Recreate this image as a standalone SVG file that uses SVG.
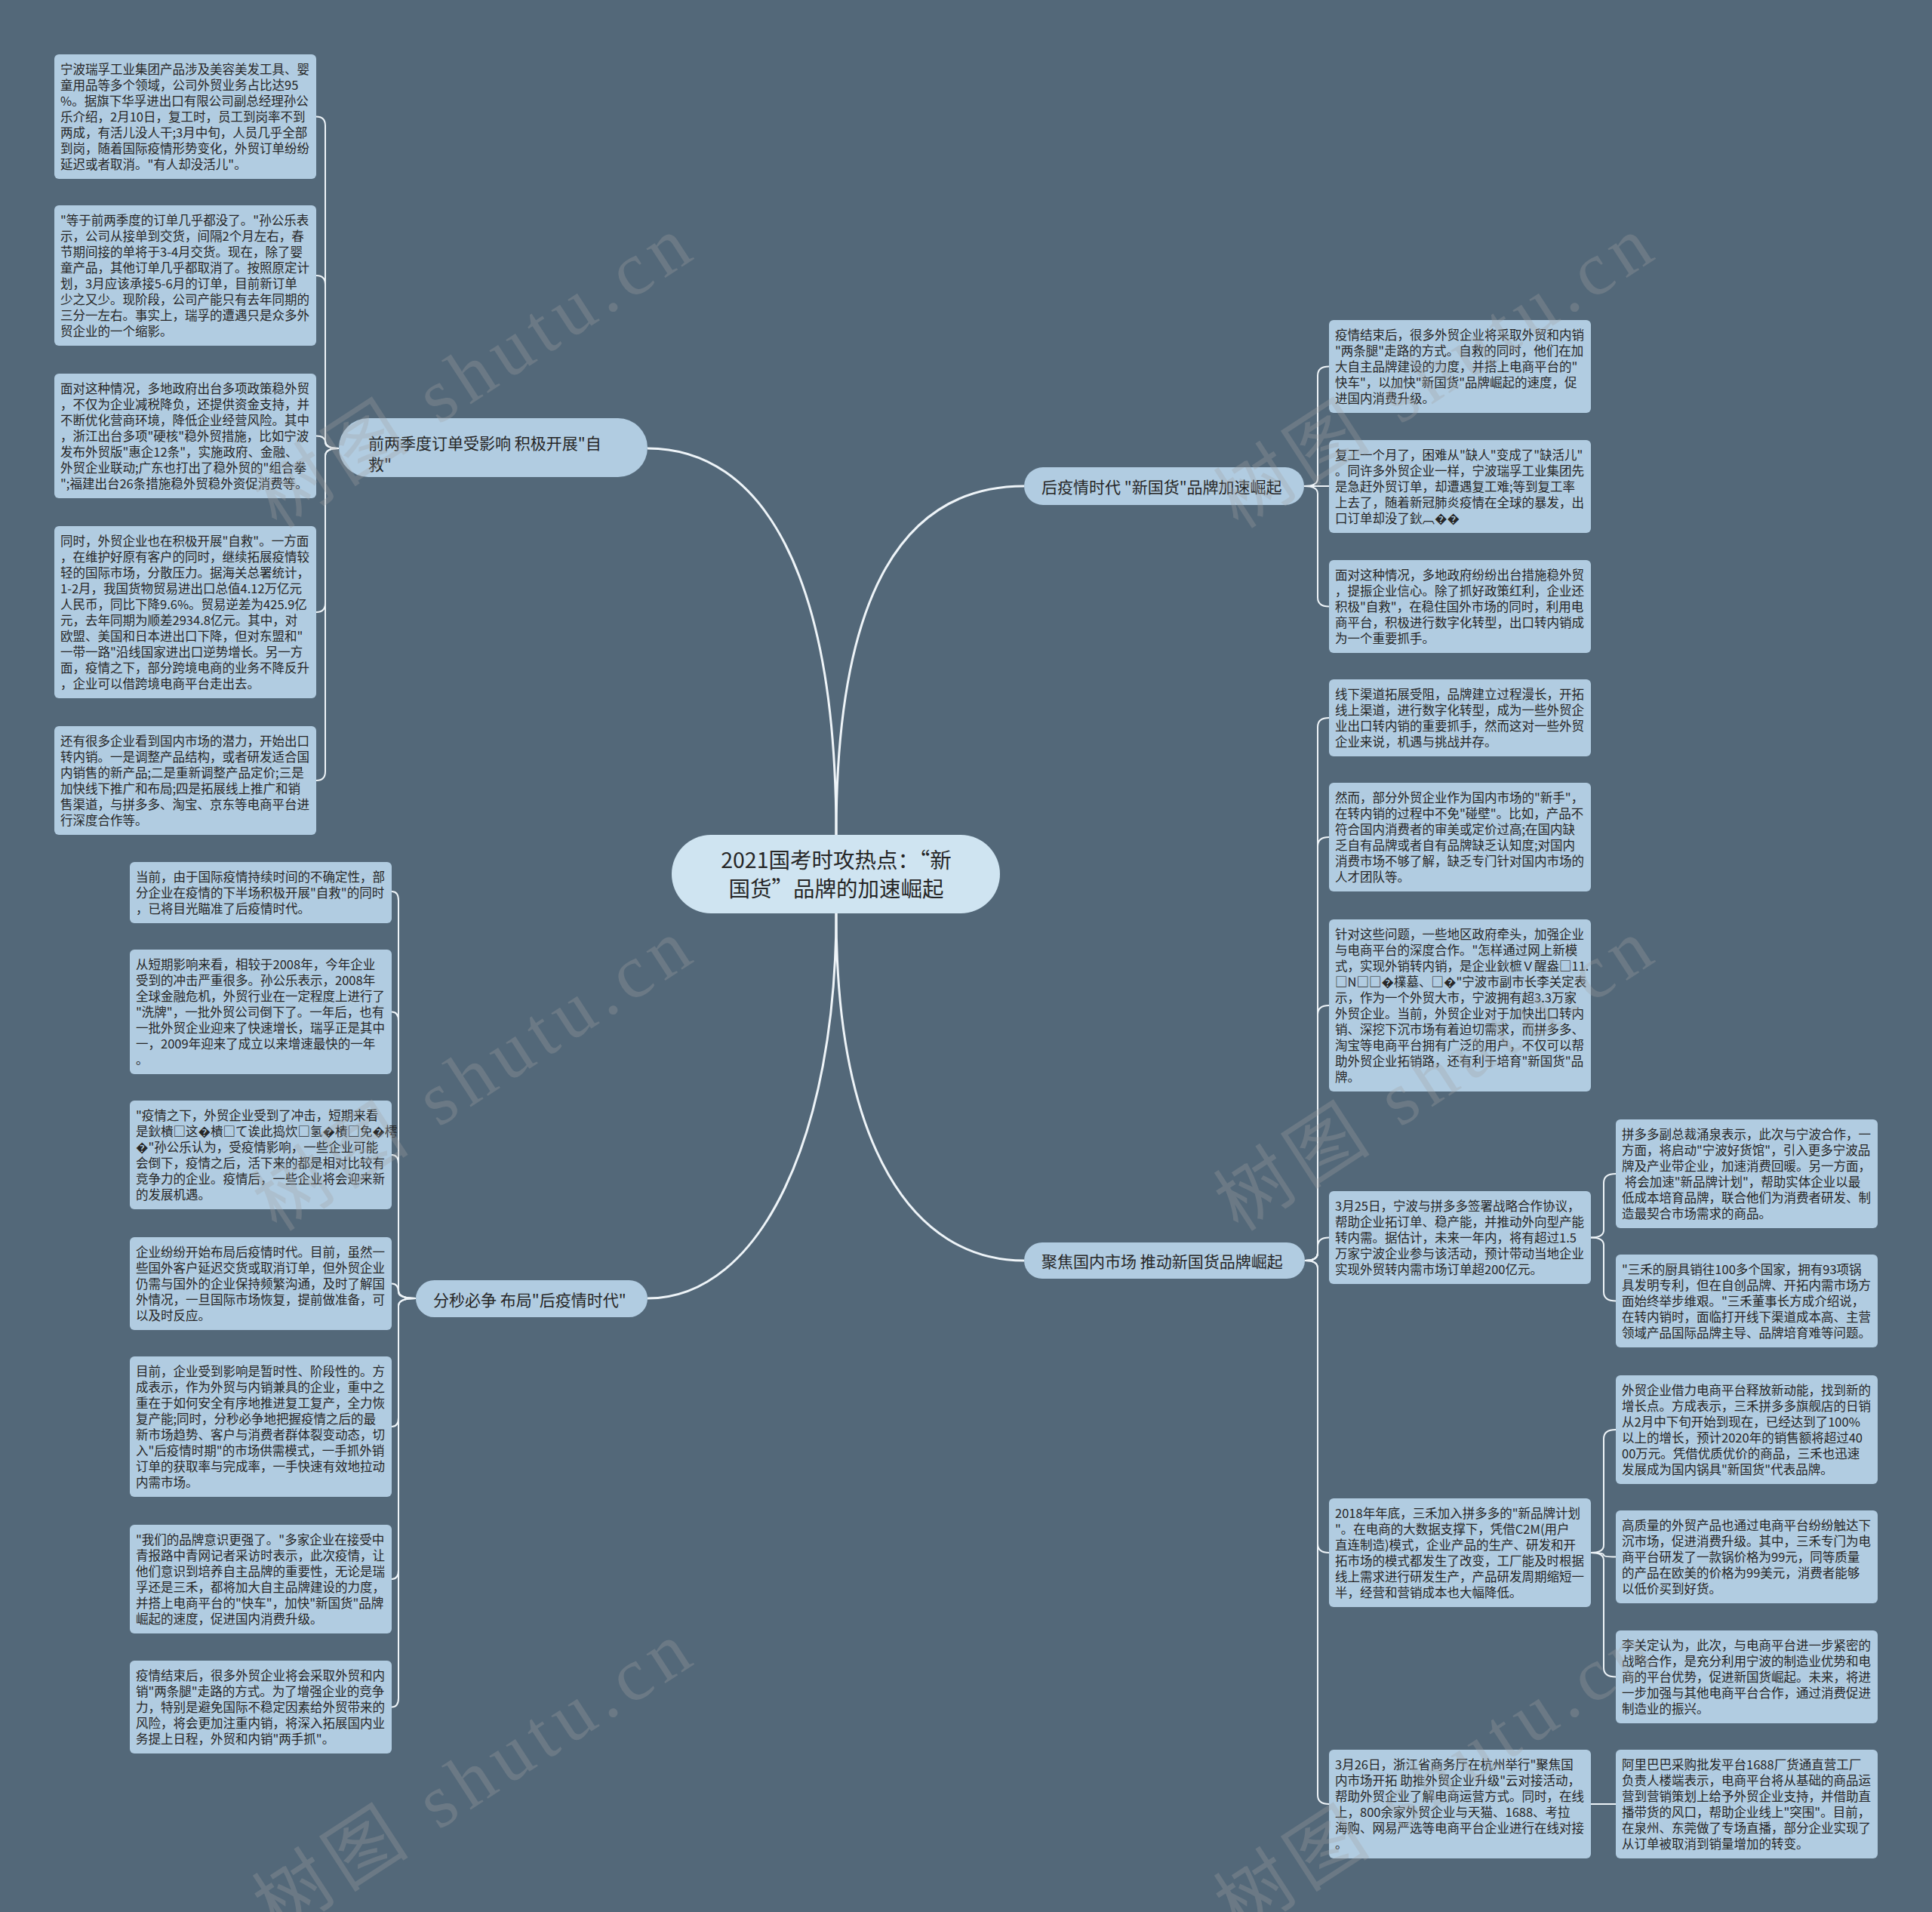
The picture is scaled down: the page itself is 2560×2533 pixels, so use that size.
<svg xmlns="http://www.w3.org/2000/svg" width="2560" height="2533" viewBox="0 0 2560 2533">
<style>
.t{font-family:"Noto Sans CJK SC","Noto Sans",sans-serif;font-size:16.5px;fill:#262626}
.bt{font-family:"Noto Sans CJK SC","Noto Sans",sans-serif;font-size:21px;fill:#262626}
.ct{font-family:"Noto Sans CJK SC","Noto Sans",sans-serif;font-size:28.5px;fill:#262626;text-anchor:middle}
.box{fill:#b1cce1}
.br{fill:#b1cce1}
.cn{fill:#cfe4f1}
.ln{fill:none;stroke:#eef4f8;stroke-width:2}
.mln{fill:none;stroke:#eef4f8;stroke-width:3}
.wm{font-family:"Liberation Serif","Noto Sans CJK SC",serif;font-size:100px;fill:#a3a3a3;opacity:0.3;letter-spacing:10px}
</style>
<rect x="0" y="0" width="2560" height="2533" fill="#536879"/>

<g id="connectors">
<path class="mln" d="M 1108 1106 C 1108 760, 1010 594, 858 594"/>
<path class="mln" d="M 1108 1106 C 1108 780, 1200 644, 1357 644"/>
<path class="mln" d="M 1108 1210 C 1108 1500, 1010 1720, 858 1720"/>
<path class="mln" d="M 1108 1210 C 1108 1520, 1210 1670, 1357 1670"/>

<path class="ln" d="M 449 594 Q 431 594 431 584 V 166.5 Q 431 154.5 419 154.5"/>
<path class="ln" d="M 449 594 Q 431 594 431 584 V 377 Q 431 365 419 365"/>
<path class="ln" d="M 449 594 Q 431 594 431 586 Q 431 577.5 419 577.5"/>
<path class="ln" d="M 449 594 Q 431 594 431 604 V 799 Q 431 811 419 811"/>
<path class="ln" d="M 449 594 Q 431 594 431 604 V 1022 Q 431 1034 419 1034"/>

<path class="ln" d="M 551 1720 Q 528 1720 528 1710 V 1193 Q 528 1181 519 1181"/>
<path class="ln" d="M 551 1720 Q 528 1720 528 1710 V 1352.5 Q 528 1340.5 519 1340.5"/>
<path class="ln" d="M 551 1720 Q 528 1720 528 1710 V 1542 Q 528 1530 519 1530"/>
<path class="ln" d="M 551 1720 Q 528 1720 528 1712 Q 528 1700.5 519 1700.5"/>
<path class="ln" d="M 551 1720 Q 528 1720 528 1730 V 1878 Q 528 1890 519 1890"/>
<path class="ln" d="M 551 1720 Q 528 1720 528 1730 V 2080 Q 528 2092 519 2092"/>
<path class="ln" d="M 551 1720 Q 528 1720 528 1730 V 2249.5 Q 528 2261.5 519 2261.5"/>

<path class="ln" d="M 1728 644 Q 1746 644 1746 634 V 497.5 Q 1746 485.5 1761 485.5"/>
<path class="ln" d="M 1728 644 H 1761"/>
<path class="ln" d="M 1728 644 Q 1746 644 1746 654 V 791.5 Q 1746 803.5 1761 803.5"/>

<path class="ln" d="M 1729 1670 Q 1746 1670 1746 1660 V 963 Q 1746 951 1761 951"/>
<path class="ln" d="M 1729 1670 Q 1746 1670 1746 1660 V 1121 Q 1746 1109 1761 1109"/>
<path class="ln" d="M 1729 1670 Q 1746 1670 1746 1660 V 1344 Q 1746 1332 1761 1332"/>
<path class="ln" d="M 1729 1670 Q 1746 1670 1746 1660 V 1651.5 Q 1746 1639.5 1761 1639.5"/>
<path class="ln" d="M 1729 1670 Q 1746 1670 1746 1680 V 2045 Q 1746 2057 1761 2057"/>
<path class="ln" d="M 1729 1670 Q 1746 1670 1746 1680 V 2378 Q 1746 2390 1761 2390"/>

<path class="ln" d="M 2108 1639.5 Q 2125 1639.5 2125 1629.5 V 1567 Q 2125 1555 2141 1555"/>
<path class="ln" d="M 2108 1639.5 Q 2125 1639.5 2125 1649.5 V 1711.5 Q 2125 1723.5 2141 1723.5"/>
<path class="ln" d="M 2108 2057 Q 2125 2057 2125 2047 V 1906 Q 2125 1894 2141 1894"/>
<path class="ln" d="M 2108 2057 Q 2125 2057 2125 2060 Q 2125 2062.5 2141 2062.5"/>
<path class="ln" d="M 2108 2057 Q 2125 2057 2125 2067 V 2209.5 Q 2125 2221.5 2141 2221.5"/>
<path class="ln" d="M 2108 2390 H 2141"/>
</g>

<g id="center">
<rect class="cn" x="890" y="1106" width="435" height="104" rx="52"/>
<text class="ct" x="1108" y="1150">2021国考时攻热点：“新</text>
<text class="ct" x="1108" y="1188">国货”品牌的加速崛起</text>
</g>

<g id="branch-l1">
<rect class="br" x="449" y="554" width="409" height="78" rx="39"/>
<text class="bt" x="488" y="595">前两季度订单受影响 积极开展"自</text>
<text class="bt" x="488" y="623">救"</text>
</g>
<g id="branch-r1">
<rect class="br" x="1357" y="619" width="371" height="50" rx="25"/>
<text class="bt" x="1380" y="653">后疫情时代 "新国货"品牌加速崛起</text>
</g>
<g id="branch-l2">
<rect class="br" x="551" y="1696" width="307" height="49" rx="24.5"/>
<text class="bt" x="574" y="1730">分秒必争 布局"后疫情时代"</text>
</g>
<g id="branch-r2">
<rect class="br" x="1357" y="1646" width="372" height="48" rx="24"/>
<text class="bt" x="1380" y="1679">聚焦国内市场 推动新国货品牌崛起</text>
</g>

<g id="l1-1"><rect class="box" x="72" y="72" width="347" height="165" rx="6"/>
<text class="t" y="98"><tspan x="80">宁波瑞孚工业集团产品涉及美容美发工具、婴</tspan><tspan x="80" dy="21">童用品等多个领域，公司外贸业务占比达95</tspan><tspan x="80" dy="21">%。据旗下华孚进出口有限公司副总经理孙公</tspan><tspan x="80" dy="21">乐介绍，2月10日，复工时，员工到岗率不到</tspan><tspan x="80" dy="21">两成，有活儿没人干;3月中旬，人员几乎全部</tspan><tspan x="80" dy="21">到岗，随着国际疫情形势变化，外贸订单纷纷</tspan><tspan x="80" dy="21">延迟或者取消。"有人却没活儿"。</tspan></text></g>

<g id="l1-2"><rect class="box" x="72" y="272" width="347" height="186" rx="6"/>
<text class="t" y="298"><tspan x="80">"等于前两季度的订单几乎都没了。"孙公乐表</tspan><tspan x="80" dy="21">示，公司从接单到交货，间隔2个月左右，春</tspan><tspan x="80" dy="21">节期间接的单将于3-4月交货。现在，除了婴</tspan><tspan x="80" dy="21">童产品，其他订单几乎都取消了。按照原定计</tspan><tspan x="80" dy="21">划，3月应该承接5-6月的订单，目前新订单</tspan><tspan x="80" dy="21">少之又少。现阶段，公司产能只有去年同期的</tspan><tspan x="80" dy="21">三分一左右。事实上，瑞孚的遭遇只是众多外</tspan><tspan x="80" dy="21">贸企业的一个缩影。</tspan></text></g>

<g id="l1-3"><rect class="box" x="72" y="495" width="347" height="165" rx="6"/>
<text class="t" y="521"><tspan x="80">面对这种情况，多地政府出台多项政策稳外贸</tspan><tspan x="80" dy="21">，不仅为企业减税降负，还提供资金支持，并</tspan><tspan x="80" dy="21">不断优化营商环境，降低企业经营风险。其中</tspan><tspan x="80" dy="21">，浙江出台多项"硬核"稳外贸措施，比如宁波</tspan><tspan x="80" dy="21">发布外贸版"惠企12条"，实施政府、金融、</tspan><tspan x="80" dy="21">外贸企业联动;广东也打出了稳外贸的"组合拳</tspan><tspan x="80" dy="21">";福建出台26条措施稳外贸稳外资促消费等。</tspan></text></g>

<g id="l1-4"><rect class="box" x="72" y="697" width="347" height="228" rx="6"/>
<text class="t" y="723"><tspan x="80">同时，外贸企业也在积极开展"自救"。一方面</tspan><tspan x="80" dy="21">，在维护好原有客户的同时，继续拓展疫情较</tspan><tspan x="80" dy="21">轻的国际市场，分散压力。据海关总署统计，</tspan><tspan x="80" dy="21">1-2月，我国货物贸易进出口总值4.12万亿元</tspan><tspan x="80" dy="21">人民币，同比下降9.6%。贸易逆差为425.9亿</tspan><tspan x="80" dy="21">元，去年同期为顺差2934.8亿元。其中，对</tspan><tspan x="80" dy="21">欧盟、美国和日本进出口下降，但对东盟和"</tspan><tspan x="80" dy="21">一带一路"沿线国家进出口逆势增长。另一方</tspan><tspan x="80" dy="21">面，疫情之下，部分跨境电商的业务不降反升</tspan><tspan x="80" dy="21">，企业可以借跨境电商平台走出去。</tspan></text></g>

<g id="l1-5"><rect class="box" x="72" y="962" width="347" height="144" rx="6"/>
<text class="t" y="988"><tspan x="80">还有很多企业看到国内市场的潜力，开始出口</tspan><tspan x="80" dy="21">转内销。一是调整产品结构，或者研发适合国</tspan><tspan x="80" dy="21">内销售的新产品;二是重新调整产品定价;三是</tspan><tspan x="80" dy="21">加快线下推广和布局;四是拓展线上推广和销</tspan><tspan x="80" dy="21">售渠道，与拼多多、淘宝、京东等电商平台进</tspan><tspan x="80" dy="21">行深度合作等。</tspan></text></g>

<g id="l2-1"><rect class="box" x="172" y="1142" width="347" height="81" rx="6"/>
<text class="t" y="1168"><tspan x="180">当前，由于国际疫情持续时间的不确定性，部</tspan><tspan x="180" dy="21">分企业在疫情的下半场积极开展"自救"的同时</tspan><tspan x="180" dy="21">，已将目光瞄准了后疫情时代。</tspan></text></g>

<g id="l2-2"><rect class="box" x="172" y="1258" width="347" height="165" rx="6"/>
<text class="t" y="1284"><tspan x="180">从短期影响来看，相较于2008年，今年企业</tspan><tspan x="180" dy="21">受到的冲击严重很多。孙公乐表示，2008年</tspan><tspan x="180" dy="21">全球金融危机，外贸行业在一定程度上进行了</tspan><tspan x="180" dy="21">"洗牌"，一批外贸公司倒下了。一年后，也有</tspan><tspan x="180" dy="21">一批外贸企业迎来了快速增长，瑞孚正是其中</tspan><tspan x="180" dy="21">一，2009年迎来了成立以来增速最快的一年</tspan><tspan x="180" dy="21">。</tspan></text></g>

<g id="l2-3"><rect class="box" x="172" y="1458" width="347" height="144" rx="6"/>
<text class="t" y="1484"><tspan x="180">"疫情之下，外贸企业受到了冲击，短期来看</tspan><tspan x="180" dy="21">是鈥樻□这�樻□て诶此捣炊□氢�樻□免�樗</tspan><tspan x="180" dy="21">�"孙公乐认为，受疫情影响，一些企业可能</tspan><tspan x="180" dy="21">会倒下，疫情之后，活下来的都是相对比较有</tspan><tspan x="180" dy="21">竞争力的企业。疫情后，一些企业将会迎来新</tspan><tspan x="180" dy="21">的发展机遇。</tspan></text></g>

<g id="l2-4"><rect class="box" x="172" y="1639" width="347" height="123" rx="6"/>
<text class="t" y="1665"><tspan x="180">企业纷纷开始布局后疫情时代。目前，虽然一</tspan><tspan x="180" dy="21">些国外客户延迟交货或取消订单，但外贸企业</tspan><tspan x="180" dy="21">仍需与国外的企业保持频繁沟通，及时了解国</tspan><tspan x="180" dy="21">外情况，一旦国际市场恢复，提前做准备，可</tspan><tspan x="180" dy="21">以及时反应。</tspan></text></g>

<g id="l2-5"><rect class="box" x="172" y="1797" width="347" height="186" rx="6"/>
<text class="t" y="1823"><tspan x="180">目前，企业受到影响是暂时性、阶段性的。方</tspan><tspan x="180" dy="21">成表示，作为外贸与内销兼具的企业，重中之</tspan><tspan x="180" dy="21">重在于如何安全有序地推进复工复产，全力恢</tspan><tspan x="180" dy="21">复产能;同时，分秒必争地把握疫情之后的最</tspan><tspan x="180" dy="21">新市场趋势、客户与消费者群体裂变动态，切</tspan><tspan x="180" dy="21">入"后疫情时期"的市场供需模式，一手抓外销</tspan><tspan x="180" dy="21">订单的获取率与完成率，一手快速有效地拉动</tspan><tspan x="180" dy="21">内需市场。</tspan></text></g>

<g id="l2-6"><rect class="box" x="172" y="2020" width="347" height="144" rx="6"/>
<text class="t" y="2046"><tspan x="180">"我们的品牌意识更强了。"多家企业在接受中</tspan><tspan x="180" dy="21">青报路中青网记者采访时表示，此次疫情，让</tspan><tspan x="180" dy="21">他们意识到培养自主品牌的重要性，无论是瑞</tspan><tspan x="180" dy="21">孚还是三禾，都将加大自主品牌建设的力度，</tspan><tspan x="180" dy="21">并搭上电商平台的"快车"，加快"新国货"品牌</tspan><tspan x="180" dy="21">崛起的速度，促进国内消费升级。</tspan></text></g>

<g id="l2-7"><rect class="box" x="172" y="2200" width="347" height="123" rx="6"/>
<text class="t" y="2226"><tspan x="180">疫情结束后，很多外贸企业将会采取外贸和内</tspan><tspan x="180" dy="21">销"两条腿"走路的方式。为了增强企业的竞争</tspan><tspan x="180" dy="21">力，特别是避免国际不稳定因素给外贸带来的</tspan><tspan x="180" dy="21">风险，将会更加注重内销，将深入拓展国内业</tspan><tspan x="180" dy="21">务提上日程，外贸和内销"两手抓"。</tspan></text></g>

<g id="r1-1"><rect class="box" x="1761" y="424" width="347" height="123" rx="6"/>
<text class="t" y="450"><tspan x="1769">疫情结束后，很多外贸企业将采取外贸和内销</tspan><tspan x="1769" dy="21">"两条腿"走路的方式。自救的同时，他们在加</tspan><tspan x="1769" dy="21">大自主品牌建设的力度，并搭上电商平台的"</tspan><tspan x="1769" dy="21">快车"，以加快"新国货"品牌崛起的速度，促</tspan><tspan x="1769" dy="21">进国内消费升级。</tspan></text></g>

<g id="r1-2"><rect class="box" x="1761" y="583" width="347" height="123" rx="6"/>
<text class="t" y="609"><tspan x="1769">复工一个月了，困难从"缺人"变成了"缺活儿"</tspan><tspan x="1769" dy="21">。同许多外贸企业一样，宁波瑞孚工业集团先</tspan><tspan x="1769" dy="21">是急赶外贸订单，却遭遇复工难;等到复工率</tspan><tspan x="1769" dy="21">上去了，随着新冠肺炎疫情在全球的暴发，出</tspan><tspan x="1769" dy="21">口订单却没了鈥︹��</tspan></text></g>

<g id="r1-3"><rect class="box" x="1761" y="742" width="347" height="123" rx="6"/>
<text class="t" y="768"><tspan x="1769">面对这种情况，多地政府纷纷出台措施稳外贸</tspan><tspan x="1769" dy="21">，提振企业信心。除了抓好政策红利，企业还</tspan><tspan x="1769" dy="21">积极"自救"，在稳住国外市场的同时，利用电</tspan><tspan x="1769" dy="21">商平台，积极进行数字化转型，出口转内销成</tspan><tspan x="1769" dy="21">为一个重要抓手。</tspan></text></g>

<g id="r2-1"><rect class="box" x="1761" y="900" width="347" height="102" rx="6"/>
<text class="t" y="926"><tspan x="1769">线下渠道拓展受阻，品牌建立过程漫长，开拓</tspan><tspan x="1769" dy="21">线上渠道，进行数字化转型，成为一些外贸企</tspan><tspan x="1769" dy="21">业出口转内销的重要抓手，然而这对一些外贸</tspan><tspan x="1769" dy="21">企业来说，机遇与挑战并存。</tspan></text></g>

<g id="r2-2"><rect class="box" x="1761" y="1037" width="347" height="144" rx="6"/>
<text class="t" y="1063"><tspan x="1769">然而，部分外贸企业作为国内市场的"新手"，</tspan><tspan x="1769" dy="21">在转内销的过程中不免"碰壁"。比如，产品不</tspan><tspan x="1769" dy="21">符合国内消费者的审美或定价过高;在国内缺</tspan><tspan x="1769" dy="21">乏自有品牌或者自有品牌缺乏认知度;对国内</tspan><tspan x="1769" dy="21">消费市场不够了解，缺乏专门针对国内市场的</tspan><tspan x="1769" dy="21">人才团队等。</tspan></text></g>

<g id="r2-3"><rect class="box" x="1761" y="1218" width="347" height="228" rx="6"/>
<text class="t" y="1244"><tspan x="1769">针对这些问题，一些地区政府牵头，加强企业</tspan><tspan x="1769" dy="21">与电商平台的深度合作。"怎样通过网上新模</tspan><tspan x="1769" dy="21">式，实现外销转内销，是企业鈥樜Ｖ醒盎□11.</tspan><tspan x="1769" dy="21">□N□□�檏墓、□�"宁波市副市长李关定表</tspan><tspan x="1769" dy="21">示，作为一个外贸大市，宁波拥有超3.3万家</tspan><tspan x="1769" dy="21">外贸企业。当前，外贸企业对于加快出口转内</tspan><tspan x="1769" dy="21">销、深挖下沉市场有着迫切需求，而拼多多、</tspan><tspan x="1769" dy="21">淘宝等电商平台拥有广泛的用户，不仅可以帮</tspan><tspan x="1769" dy="21">助外贸企业拓销路，还有利于培育"新国货"品</tspan><tspan x="1769" dy="21">牌。</tspan></text></g>

<g id="r2-4"><rect class="box" x="1761" y="1578" width="347" height="123" rx="6"/>
<text class="t" y="1604"><tspan x="1769">3月25日，宁波与拼多多签署战略合作协议，</tspan><tspan x="1769" dy="21">帮助企业拓订单、稳产能，并推动外向型产能</tspan><tspan x="1769" dy="21">转内需。据估计，未来一年内，将有超过1.5</tspan><tspan x="1769" dy="21">万家宁波企业参与该活动，预计带动当地企业</tspan><tspan x="1769" dy="21">实现外贸转内需市场订单超200亿元。</tspan></text></g>

<g id="r2-5"><rect class="box" x="1761" y="1985" width="347" height="144" rx="6"/>
<text class="t" y="2011"><tspan x="1769">2018年年底，三禾加入拼多多的"新品牌计划</tspan><tspan x="1769" dy="21">"。在电商的大数据支撑下，凭借C2M(用户</tspan><tspan x="1769" dy="21">直连制造)模式，企业产品的生产、研发和开</tspan><tspan x="1769" dy="21">拓市场的模式都发生了改变，工厂能及时根据</tspan><tspan x="1769" dy="21">线上需求进行研发生产，产品研发周期缩短一</tspan><tspan x="1769" dy="21">半，经营和营销成本也大幅降低。</tspan></text></g>

<g id="r2-6"><rect class="box" x="1761" y="2318" width="347" height="144" rx="6"/>
<text class="t" y="2344"><tspan x="1769">3月26日，浙江省商务厅在杭州举行"聚焦国</tspan><tspan x="1769" dy="21">内市场开拓 助推外贸企业升级"云对接活动，</tspan><tspan x="1769" dy="21">帮助外贸企业了解电商运营方式。同时，在线</tspan><tspan x="1769" dy="21">上，800余家外贸企业与天猫、1688、考拉</tspan><tspan x="1769" dy="21">海购、网易严选等电商平台企业进行在线对接</tspan><tspan x="1769" dy="21">。</tspan></text></g>

<g id="r3-a"><rect class="box" x="2141" y="1483" width="347" height="144" rx="6"/>
<text class="t" y="1509"><tspan x="2149">拼多多副总裁涌泉表示，此次与宁波合作，一</tspan><tspan x="2149" dy="21">方面，将启动"宁波好货馆"，引入更多宁波品</tspan><tspan x="2149" dy="21">牌及产业带企业，加速消费回暖。另一方面，</tspan><tspan x="2149" dy="21"> 将会加速"新品牌计划"，帮助实体企业以最</tspan><tspan x="2149" dy="21">低成本培育品牌，联合他们为消费者研发、制</tspan><tspan x="2149" dy="21">造最契合市场需求的商品。</tspan></text></g>

<g id="r3-b"><rect class="box" x="2141" y="1662" width="347" height="123" rx="6"/>
<text class="t" y="1688"><tspan x="2149">"三禾的厨具销往100多个国家，拥有93项锅</tspan><tspan x="2149" dy="21">具发明专利，但在自创品牌、开拓内需市场方</tspan><tspan x="2149" dy="21">面始终举步维艰。"三禾董事长方成介绍说，</tspan><tspan x="2149" dy="21">在转内销时，面临打开线下渠道成本高、主营</tspan><tspan x="2149" dy="21">领域产品国际品牌主导、品牌培育难等问题。</tspan></text></g>

<g id="r3-c"><rect class="box" x="2141" y="1822" width="347" height="144" rx="6"/>
<text class="t" y="1848"><tspan x="2149">外贸企业借力电商平台释放新动能，找到新的</tspan><tspan x="2149" dy="21">增长点。方成表示，三禾拼多多旗舰店的日销</tspan><tspan x="2149" dy="21">从2月中下旬开始到现在，已经达到了100%</tspan><tspan x="2149" dy="21">以上的增长，预计2020年的销售额将超过40</tspan><tspan x="2149" dy="21">00万元。凭借优质优价的商品，三禾也迅速</tspan><tspan x="2149" dy="21">发展成为国内锅具"新国货"代表品牌。</tspan></text></g>

<g id="r3-d"><rect class="box" x="2141" y="2001" width="347" height="123" rx="6"/>
<text class="t" y="2027"><tspan x="2149">高质量的外贸产品也通过电商平台纷纷触达下</tspan><tspan x="2149" dy="21">沉市场，促进消费升级。其中，三禾专门为电</tspan><tspan x="2149" dy="21">商平台研发了一款锅价格为99元，同等质量</tspan><tspan x="2149" dy="21">的产品在欧美的价格为99美元，消费者能够</tspan><tspan x="2149" dy="21">以低价买到好货。</tspan></text></g>

<g id="r3-e"><rect class="box" x="2141" y="2160" width="347" height="123" rx="6"/>
<text class="t" y="2186"><tspan x="2149">李关定认为，此次，与电商平台进一步紧密的</tspan><tspan x="2149" dy="21">战略合作，是充分利用宁波的制造业优势和电</tspan><tspan x="2149" dy="21">商的平台优势，促进新国货崛起。未来，将进</tspan><tspan x="2149" dy="21">一步加强与其他电商平台合作，通过消费促进</tspan><tspan x="2149" dy="21">制造业的振兴。</tspan></text></g>

<g id="r3-f"><rect class="box" x="2141" y="2318" width="347" height="144" rx="6"/>
<text class="t" y="2344"><tspan x="2149">阿里巴巴采购批发平台1688厂货通直营工厂</tspan><tspan x="2149" dy="21">负责人楼端表示，电商平台将从基础的商品运</tspan><tspan x="2149" dy="21">营到营销策划上给予外贸企业支持，并借助直</tspan><tspan x="2149" dy="21">播带货的风口，帮助企业线上"突围"。目前，</tspan><tspan x="2149" dy="21">在泉州、东莞做了专场直播，部分企业实现了</tspan><tspan x="2149" dy="21">从订单被取消到销量增加的转变。</tspan></text></g>

<g id="watermarks">
<text class="wm" transform="translate(367 702) rotate(-33)">树图 shutu.cn</text>
<text class="wm" transform="translate(1641 702) rotate(-33)">树图 shutu.cn</text>
<text class="wm" transform="translate(367 1633) rotate(-33)">树图 shutu.cn</text>
<text class="wm" transform="translate(1641 1633) rotate(-33)">树图 shutu.cn</text>
<text class="wm" transform="translate(367 2564) rotate(-33)">树图 shutu.cn</text>
<text class="wm" transform="translate(1641 2564) rotate(-33)">树图 shutu.cn</text>
</g>
</svg>
